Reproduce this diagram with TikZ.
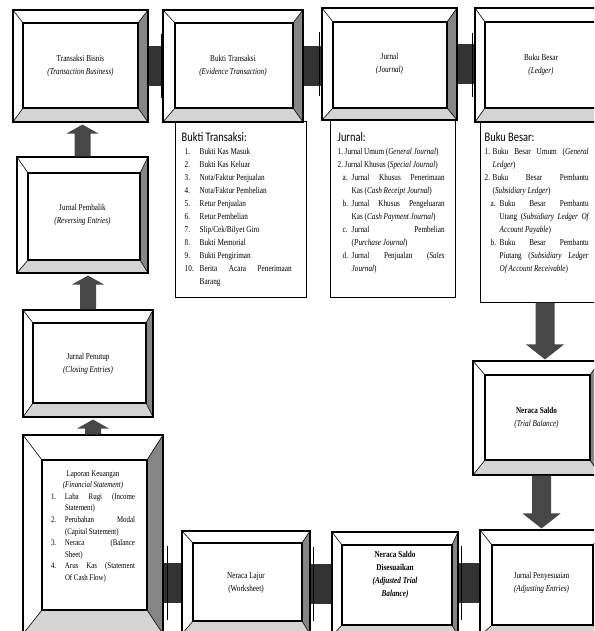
\documentclass[tikz,border=0pt]{standalone}
\usepackage{fontspec}
\setmainfont{Liberation Serif}[FakeStretch=0.8]
\newfontfamily\headfont{Carlito}[FakeStretch=0.8]
\usetikzlibrary{calc,positioning}

% one numbered row of a list: [indent]{label width}{label}
\newcommand{\listrow}[3][0pt]{\par\noindent\hangindent=\dimexpr#1+#2\relax\hangafter=1\hspace*{#1}\makebox[#2][l]{#3}\ignorespaces}

\tikzset{%
    x=1pt, y=-1pt,
    every node/.style={font=\fontsize{9}{13}\selectfont},
    bevel/.style n args={4}{
        draw, line width=1.1pt, fill=white, inner sep=0pt, align=center,
        path picture={
            \coordinate (bnw) at (path picture bounding box.north west);
            \coordinate (bne) at (path picture bounding box.north east);
            \coordinate (bsw) at (path picture bounding box.south west);
            \coordinate (bse) at (path picture bounding box.south east);
            \coordinate (inw) at ([xshift=#1pt,yshift=-#2pt]bnw);
            \coordinate (ine) at ([xshift=-#3pt,yshift=-#2pt]bne);
            \coordinate (isw) at ([xshift=#1pt,yshift=#4pt]bsw);
            \coordinate (ise) at ([xshift=-#3pt,yshift=#4pt]bse);
            \fill[black!48] (bne) -- (bse) -- (ise) -- (ine) -- cycle;
            \fill[black!17] (bsw) -- (bse) -- (ise) -- (isw) -- cycle;
            \draw[line width=.6pt] (bnw) -- (inw) (bne) -- (ine) (bsw) -- (isw) (bse) -- (ise);
            \draw[line width=1.1pt] (inw) rectangle (ise);
        }
    },
    panel/.style={draw, line width=1pt, fill=white, inner sep=0pt},
    listtext/.style={anchor=north west, inner sep=0pt, align=justify},
    link/.style={draw=black!80, line width=40pt},
    capline/.style={draw=black, line width=1pt},
    uparrow/.style={fill=black!72, to path={let \p1=(\tikztostart), \p2=(\tikztotarget) in
        (\x1-8pt,\y1) -- (\x1-8pt,\y2-11pt) -- (\x1-16pt,\y2-11pt) -- (\x1,\y2-2pt)
        -- (\x1+16pt,\y2-11pt) -- (\x1+8pt,\y2-11pt) -- (\x1+8pt,\y1) -- cycle}},
    downarrow/.style={fill=black!72, to path={let \p1=(\tikztostart), \p2=(\tikztotarget) in
        (\x1-9.5pt,\y1) -- (\x1-9.5pt,\y2+16pt) -- (\x1-19pt,\y2+16pt) -- (\x1,\y2+1pt)
        -- (\x1+19pt,\y2+16pt) -- (\x1+9.5pt,\y2+16pt) -- (\x1+9.5pt,\y1) -- cycle}}
}

\begin{document}
\begin{tikzpicture}
    \path[use as bounding box, fill=white] (0,0) rectangle (594,631);
    \clip (0,0) rectangle (594,631);

    % list panels under the top row
    \node[panel, minimum width=131pt, minimum height=175pt] (buktilist) at (240.5,209.5) {};
    \node[panel, minimum width=125pt, minimum height=177pt] (jurlist) at (392.5,208.5) {};
    \node[panel, minimum width=130pt, minimum height=180pt] (bukulist) at (545,212) {};

    % top row
    \node[bevel={10}{13}{10}{14}, minimum width=135pt, minimum height=112pt] (trans) at (80.5,66)
        {Transaksi Bisnis\\\textit{(Transaction Business)}};
    \node[bevel={12}{13}{10}{14}, minimum width=140pt, minimum height=112pt] (bukti) at (233,66)
        {Bukti Transaksi\\\textit{(Evidence Transaction)}};
    \node[bevel={11}{14}{10}{12}, minimum width=135pt, minimum height=112pt] (jurnal) at (389.5,64)
        {Jurnal\\\textit{(Journal)}};
    \node[bevel={10}{14}{10}{14}, minimum width=132pt, minimum height=114pt] (buku) at (541,65)
        {Buku Besar\\\textit{(Ledger)}};

    % left column
    \node[bevel={11}{16}{8}{13}, minimum width=131pt, minimum height=116pt] (pembalik) at (82.5,215)
        {Jurnal Pembalik\\\textit{(Reversing Entries)}};
    \node[bevel={10}{13}{7}{14}, minimum width=130pt, minimum height=107pt] (penutup) at (88,363.5)
        {Jurnal Penutup\\\textit{(Closing Entries)}};
    \node[bevel={19}{25}{16}{24}, minimum width=140pt, minimum height=199pt, text width=84pt,
        align=justify, font=\fontsize{8.6}{11.6}\selectfont] (laporan) at (93,534.5) {%
        {\centering Laporan Keuangan\\\textit{(Financial Statement)}\par}
        \listrow{14pt}{1.}Laba Rugi (Income\linebreak Statement)
        \listrow{14pt}{2.}Perubahan Modal\linebreak (Capital Statement)
        \listrow{14pt}{3.}Neraca (Balance\linebreak Sheet)
        \listrow{14pt}{4.}Arus Kas (Statement\linebreak Of Cash Flow)\rule[-18pt]{0pt}{0pt}\par};

    % right column and bottom row
    \node[bevel={12}{14}{10}{15}, minimum width=127pt, minimum height=114pt] (saldo) at (536.5,418)
        {\textbf{Neraca Saldo}\\\textit{(Trial Balance)}};
    \node[bevel={12}{15}{10}{11}, minimum width=123pt, minimum height=106pt] (penyes) at (541.5,583)
        {Jurnal Penyesuaian\\\textit{(Adjusting Entries)}};
    \node[bevel={10}{13}{6}{11}, minimum width=126pt, minimum height=104pt,
        font=\bfseries\fontsize{9}{12.8}\selectfont] (nsd) at (395,584)
        {Neraca Saldo\\Disesuaikan\\\textit{(Adjusted Trial}\\\textit{Balance)}\rule[-20pt]{0pt}{0pt}};
    \node[bevel={11}{12}{8}{13}, minimum width=128pt, minimum height=103pt] (lajur) at (246,582.5)
        {Neraca Lajur\\(Worksheet)};

    % texts of the panels
    \node[listtext, text width=110pt] (buktitext) at ([xshift=7pt,yshift=-11pt]buktilist.north west) {%
        {\noindent\headfont\fontsize{13}{13}\selectfont Bukti Transaksi:\par}
        \listrow[3pt]{15pt}{1.}Bukti Kas Masuk
        \listrow[3pt]{15pt}{2.}Bukti Kas Keluar
        \listrow[3pt]{15pt}{3.}Nota/Faktur Penjualan
        \listrow[3pt]{15pt}{4.}Nota/Faktur Pembelian
        \listrow[3pt]{15pt}{5.}Retur Penjualan
        \listrow[3pt]{15pt}{6.}Retur Pembelian
        \listrow[3pt]{15pt}{7.}Slip/Cek/Bilyet Giro
        \listrow[3pt]{15pt}{8.}Bukti Memorial
        \listrow[3pt]{15pt}{9.}Bukti Pengiriman
        \listrow[3pt]{15pt}{10.}Berita Acara Penerimaan\linebreak Barang\par};
    \node[listtext, text width=107pt] (jurtext) at ([xshift=8pt,yshift=-13pt]jurlist.north west) {%
        {\noindent\headfont\fontsize{13}{13}\selectfont Jurnal:\par}
        \listrow{7pt}{1.}Jurnal Umum (\textit{General Journal})
        \listrow{7pt}{2.}Jurnal Khusus (\textit{Special Journal})
        \listrow[5pt]{9pt}{a.}Jurnal Khusus Penerimaan\linebreak Kas (\textit{Cash Receipt Journal})
        \listrow[5pt]{9pt}{b.}Jurnal Khusus Pengeluaran\linebreak Kas (\textit{Cash Payment Journal})
        \listrow[5pt]{9pt}{c.}Jurnal Pembelian\linebreak (\textit{Purchase Journal})
        \listrow[5pt]{9pt}{d.}Jurnal Penjualan (\textit{Sales\linebreak Journal})\par};
    \node[listtext, text width=104pt] (bukutext) at ([xshift=5pt,yshift=-11pt]bukulist.north west) {%
        {\noindent\headfont\fontsize{13}{13}\selectfont Buku Besar:\par}
        \listrow{8pt}{1.}Buku Besar Umum (\textit{General\linebreak Ledger})
        \listrow{8pt}{2.}Buku Besar Pembantu\linebreak (\textit{Subsidiary Ledger})
        \listrow[6pt]{9pt}{a.}Buku Besar Pembantu\linebreak Utang (\textit{Subsidiary Ledger Of\linebreak Account Payable})
        \listrow[6pt]{9pt}{b.}Buku Besar Pembantu\linebreak Piutang (\textit{Subsidiary Ledger\linebreak Of Account Receivable})\par};

    % horizontal links
    \draw[link] (trans.east) -- (trans.east -| bukti.west);
    \draw[link] (bukti.east) -- (bukti.east -| jurnal.west);
    \draw[link] (jurnal.east) -- (jurnal.east -| buku.west);
    \draw[link] (penyes.west) -- (penyes.west -| nsd.east);
    \draw[link] (nsd.west) -- (nsd.west -| lajur.east);
    \draw[link] (lajur.west) -- (lajur.west -| laporan.east);
    \draw[capline] (bukti.west) ++(-1,-32) -- ++(0,64);
    \draw[capline] (jurnal.west) ++(-2,-32) -- ++(0,64);
    \draw[capline] (buku.west) ++(-2,-32) -- ++(0,64);
    \draw[capline] (penyes.west -| nsd.east) ++(3,-37) -- ++(0,74);
    \draw[capline] (nsd.west -| lajur.east) ++(3,-37) -- ++(0,74);
    \draw[capline] (lajur.west -| laporan.east) ++(4,-37) -- ++(0,74);

    % vertical arrows
    \fill[downarrow] (bukulist.south) to (bukulist.south |- saldo.north);
    \fill[downarrow] (saldo.south -| penyes.north) to (penyes.north);
    \fill[uparrow] (laporan.north) to (laporan.north |- penutup.south);
    \fill[uparrow] (penutup.north) to (penutup.north |- pembalik.south);
    \fill[uparrow] (pembalik.north) to (pembalik.north |- trans.south);
\end{tikzpicture}
\end{document}
